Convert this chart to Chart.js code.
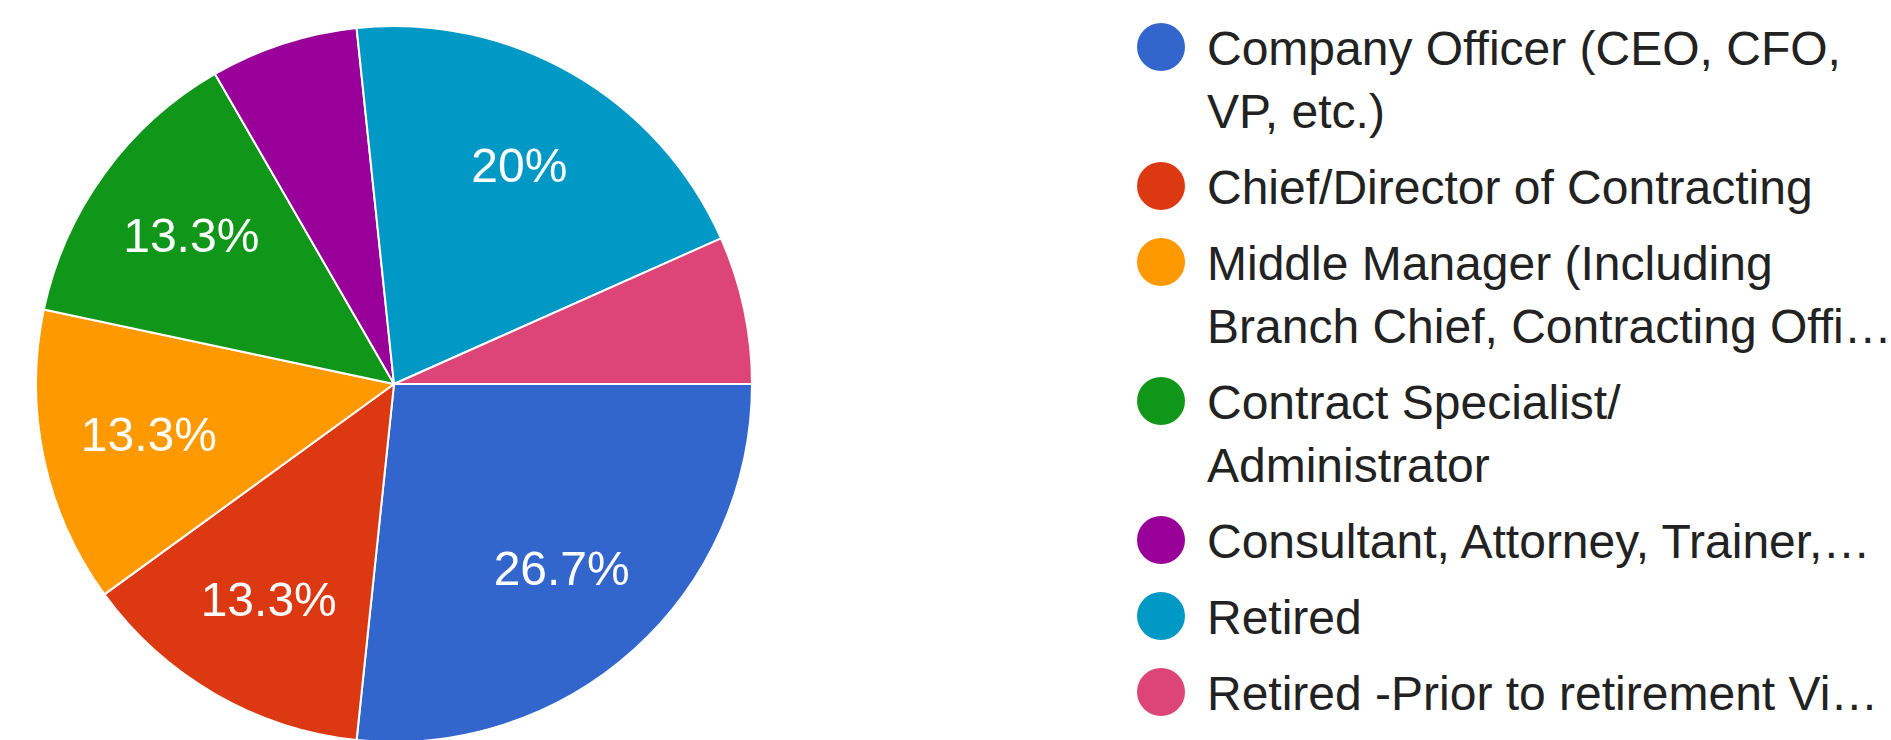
<!DOCTYPE html>
<html>
<head>
<meta charset="utf-8">
<script src="https://cdn.jsdelivr.net/npm/chart.js@4"></script>
<style>
  html, body { margin: 0; padding: 0; background: #fff; overflow: hidden; }
  body { width: 1891px; height: 740px; position: relative; font-family: Arial, "Liberation Sans", sans-serif; }
  #pieWrap { position: absolute; left: 36px; top: 26px; width: 716px; height: 716px; }
  #legend { position: absolute; left: 1137px; top: 17px; margin: 0; padding: 0; list-style: none; }
  #legend li { position: relative; padding-left: 70px; margin-bottom: 13px; font-size: 48px; line-height: 63px; color: #222; white-space: nowrap; }
  #legend .dot { position: absolute; left: 0; top: 6px; width: 48px; height: 48px; border-radius: 50%; }
</style>
</head>
<body>
<div id="pieWrap"><canvas id="pieChart"></canvas></div>
<ul id="legend"></ul>
<script>
// answers (each label split in the lines the legend shows)
const categories = [
  ['Company Officer (CEO, CFO,', 'VP, etc.)'],
  ['Chief/Director of Contracting'],
  ['Middle Manager (Including', 'Branch Chief, Contracting Offi…'],
  ['Contract Specialist/', 'Administrator'],
  ['Consultant, Attorney, Trainer,…'],
  ['Retired'],
  ['Retired -Prior to retirement Vi…']
];
const responses = [4, 2, 2, 2, 1, 3, 1];
const sliceColors = ['#3366cc', '#dc3912', '#ff9900', '#109618', '#990099', '#0099c6', '#dd4477'];

// percent text inside the slices (small slices get none)
const sliceLabels = {
  id: 'sliceLabels',
  afterDatasetsDraw(chart) {
    const ctx = chart.ctx;
    const data = chart.data.datasets[0].data;
    const total = data.reduce((a, b) => a + b, 0);
    ctx.save();
    ctx.fillStyle = '#fff';
    ctx.font = '48px Arial, "Liberation Sans", sans-serif';
    ctx.textAlign = 'center';
    ctx.textBaseline = 'middle';
    chart.getDatasetMeta(0).data.forEach((arc, i) => {
      const pct = data[i] / total * 100;
      if (pct < 10) return;
      const p = arc.getProps(['x', 'y', 'startAngle', 'endAngle', 'outerRadius'], true);
      const mid = (p.startAngle + p.endAngle) / 2;
      const r = p.outerRadius * 0.7;
      const txt = (Math.round(pct * 10) / 10) + '%';
      ctx.fillText(txt, p.x + Math.cos(mid) * r, p.y + Math.sin(mid) * r + 2);
    });
    ctx.restore();
  }
};

const ctx1 = document.getElementById('pieChart');
var pieChart = new Chart(ctx1, {
  type: 'pie',
  data: {
    labels: categories,
    datasets: [{
      data: responses,
      backgroundColor: sliceColors,
      borderColor: '#fff',
      borderWidth: 2
    }]
  },
  options: {
    responsive: true,
    maintainAspectRatio: false,
    animation: false,
    rotation: 90,
    radius: 358,
    events: [],
    plugins: {
      legend: { display: false },
      tooltip: { enabled: false }
    }
  },
  plugins: [sliceLabels]
});

// html legend
const legend = document.getElementById('legend');
categories.forEach((lines, i) => {
  const li = document.createElement('li');
  const dot = document.createElement('span');
  dot.className = 'dot';
  dot.style.background = sliceColors[i];
  li.appendChild(dot);
  lines.forEach((line, j) => {
    if (j > 0) li.appendChild(document.createElement('br'));
    li.appendChild(document.createTextNode(line));
  });
  legend.appendChild(li);
});
</script>
</body>
</html>
